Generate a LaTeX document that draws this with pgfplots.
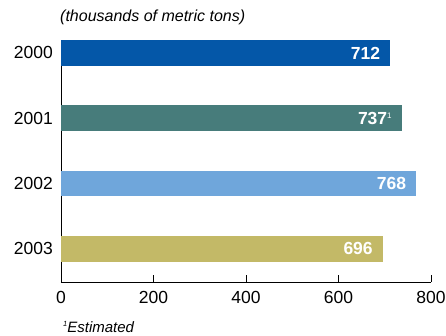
\documentclass[border=0pt]{standalone}
\usepackage{fontspec}
\setmainfont{Liberation Sans}
\usepackage{pgfplots}
\pgfplotsset{compat=1.18}

\definecolor{bar2000}{HTML}{0457A8}
\definecolor{bar2001}{HTML}{477C7B}
\definecolor{bar2002}{HTML}{6FA6DB}
\definecolor{bar2003}{HTML}{C3B967}

\newcommand{\labelsize}{\fontsize{17.5}{20}\selectfont}

\begin{document}
\begin{tikzpicture}
\begin{axis}[
  scale only axis,
  width=370pt, height=242pt,
  xbar, bar width=25.7pt, bar shift=0pt,
  xmin=0, xmax=800,
  ymin=-0.51, ymax=3.198,
  axis x line*=bottom, axis y line*=left,
  axis line style={line width=0.9pt, black},
  xtick={0,200,400,600,800},
  ytick={0,1,2,3},
  yticklabels={2003,2002,2001,2000},
  xtick align=inside,
  major tick length=7pt,
  xtick style={line width=0.9pt, black},
  ytick style={draw=none},
  /pgf/number format/assume math mode=true,
  tick label style={font=\labelsize, black},
  xticklabel style={inner sep=0pt, anchor=north, yshift=-9pt},
  yticklabel style={inner sep=0pt, anchor=east, xshift=-1pt},
  nodes near coords,
  point meta=explicit symbolic,
  every node near coord/.append style={anchor=east, inner sep=0pt, xshift=-10pt,
    font=\labelsize\bfseries, text=white},
  clip=false,
]
\addplot[draw=none, fill=bar2000] coordinates {(712,3) [712]};
\addplot[draw=none, fill=bar2001] coordinates {(737,2) [{737\raisebox{6pt}{\fontsize{8}{8}\selectfont\mdseries 1}}]};
\addplot[draw=none, fill=bar2002] coordinates {(768,1) [768]};
\addplot[draw=none, fill=bar2003] coordinates {(696,0) [696]};
\end{axis}
\node[anchor=base west, inner sep=0pt, font=\fontsize{16}{18}\selectfont\itshape] at (-1pt,260pt) {(thousands of metric tons)};
\node[anchor=base west, inner sep=0pt, font=\fontsize{15}{17}\selectfont\itshape] at (2pt,-50pt) {\raisebox{6pt}{\fontsize{7.5}{8}\selectfont 1}Estimated};
\pgfresetboundingbox
\useasboundingbox (-61pt,-53pt) rectangle (385pt,282pt);
\end{tikzpicture}
\end{document}
